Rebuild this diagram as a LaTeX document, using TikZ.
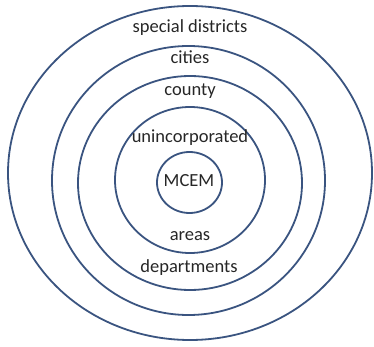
\documentclass[tikz,border=0pt]{standalone}
\usepackage{fontspec}
\setmainfont{Carlito}
\definecolor{ringblue}{HTML}{3A5480}
\definecolor{labelgray}{HTML}{262626}
\tikzset{
  ring/.style={draw=ringblue, line width=1.8pt},
  label/.style={anchor=base, inner sep=0pt, text=labelgray,
    font=\fontsize{18.5}{22}\selectfont}
}
\begin{document}
\begin{tikzpicture}[x=1pt,y=-1pt]
\useasboundingbox (0,0) rectangle (374,347);
\foreach \cx/\cy/\rx/\ry in {190/173/182/167, 188.5/180.5/136.5/134.5,
  190/183/112/107, 190/180/75/73, 189.5/182.5/32.5/30.5}
  \draw[ring] (\cx,\cy) ellipse [x radius=\rx, y radius=\ry];
\node[label] (special) at (190,33) {special districts};
\node[label] (cities) at (190,64) {cities};
\node[label] (county) at (190,96) {county};
\node[label] (uninc) at (190,143) {unincorporated};
\node[label] (mcem) at (189,186) {MCEM};
\node[label] (areas) at (190,240.5) {areas};
\node[label] (depts) at (189,272.5) {departments};
\end{tikzpicture}
\end{document}
